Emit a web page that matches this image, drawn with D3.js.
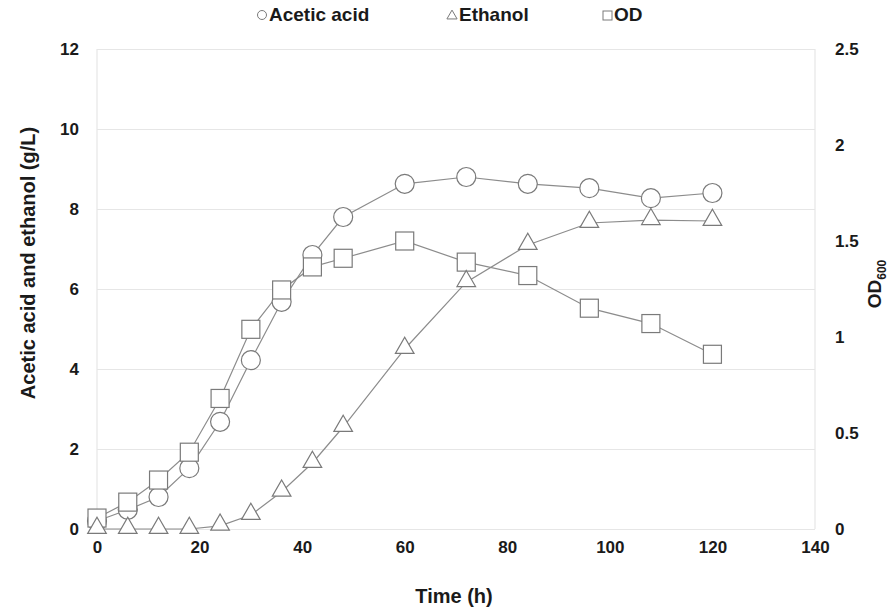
<!DOCTYPE html>
<html>
<head>
<meta charset="utf-8">
<script src="https://cdn.jsdelivr.net/npm/d3@7"></script>
<style>
body{margin:0;background:#fff;}
text{font-family:"Liberation Sans",Arial,sans-serif;font-weight:bold;fill:#1a1a1a;}
</style>
</head>
<body>
<svg id="chart" width="895" height="609"></svg>
<script>
var time = [0, 6, 12, 18, 24, 30, 36, 42, 48, 60, 72, 84, 96, 108, 120];
var acetic = [0.2, 0.48, 0.8, 1.52, 2.68, 4.22, 5.68, 6.85, 7.8, 8.63, 8.8, 8.63, 8.52, 8.27, 8.4];
var ethanol = [0, 0, 0, 0, 0.08, 0.35, 0.93, 1.65, 2.55, 4.5, 6.17, 7.1, 7.65, 7.72, 7.7];
var od = [0.057, 0.14, 0.255, 0.4, 0.68, 1.04, 1.245, 1.365, 1.41, 1.5, 1.39, 1.32, 1.15, 1.07, 0.91];

var xTicks = [0, 20, 40, 60, 80, 100, 120, 140];
var leftTicks = [0, 2, 4, 6, 8, 10, 12];
var rightTicks = [0, 0.5, 1, 1.5, 2, 2.5];

var svg = d3.select("#chart");
var LEFT = 97, RIGHT = 815, TOP = 49, BOTTOM = 529;
var LINE = "#8c8c8c", MARK = "#7a7a7a", GRID = "#e6e6e6";
var TICKFONT = 17;

var x = d3.scaleLinear().domain([0, 140]).range([LEFT, RIGHT]);
var yl = d3.scaleLinear().domain([0, 12]).range([BOTTOM, TOP]);
var yr = d3.scaleLinear().domain([0, 2.5]).range([BOTTOM, TOP]);

// gridlines
svg.append("g")
    .attr("transform", "translate(" + LEFT + ",0)")
    .call(d3.axisLeft(yl).tickValues(leftTicks).tickSize(-(RIGHT - LEFT)).tickFormat(""))
    .call(function (g) {
        g.select(".domain").remove();
        g.selectAll("line").attr("stroke", GRID).attr("stroke-width", 1.2);
    });

svg.append("line").attr("x1", LEFT).attr("x2", LEFT).attr("y1", TOP).attr("y2", BOTTOM)
    .attr("stroke", GRID).attr("stroke-width", 1.2);
svg.append("line").attr("x1", RIGHT).attr("x2", RIGHT).attr("y1", TOP).attr("y2", BOTTOM)
    .attr("stroke", GRID).attr("stroke-width", 1.2);

// axes (labels only)
function clean(g) {
    g.select(".domain").remove();
    g.selectAll(".tick line").remove();
    g.selectAll("text").attr("font-size", TICKFONT).attr("fill", "#1a1a1a");
}

svg.append("g")
    .attr("transform", "translate(" + (LEFT - 15) + ",0)")
    .call(d3.axisLeft(yl).tickValues(leftTicks).tickSize(0).tickFormat(d3.format("d")))
    .call(clean);

svg.append("g")
    .attr("transform", "translate(" + (RIGHT + 17) + ",0)")
    .call(d3.axisRight(yr).tickValues(rightTicks).tickSize(0).tickFormat(function (d) { return d; }))
    .call(clean);

svg.append("g")
    .attr("transform", "translate(0," + (BOTTOM + 9) + ")")
    .call(d3.axisBottom(x).tickValues(xTicks).tickSize(0))
    .call(clean);

// axis titles
svg.append("text").text("Time (h)")
    .attr("x", 454).attr("y", 603).attr("text-anchor", "middle").attr("font-size", 20);

svg.append("text").text("Acetic acid and ethanol (g/L)")
    .attr("transform", "translate(35,263) rotate(-90)")
    .attr("text-anchor", "middle").attr("font-size", 20);

var odLabel = svg.append("text")
    .attr("transform", "translate(881,284) rotate(-90)")
    .attr("text-anchor", "middle").attr("font-size", 19);
odLabel.append("tspan").text("OD");
odLabel.append("tspan").text("600").attr("font-size", 12).attr("dy", 5);

// series
var symTri = d3.symbol().type(d3.symbolTriangle).size(150);

function drawLine(vals, y) {
    var line = d3.line()
        .x(function (d, i) { return x(time[i]); })
        .y(function (d) { return y(d); });
    svg.append("path").datum(vals)
        .attr("d", line)
        .attr("fill", "none")
        .attr("stroke", LINE)
        .attr("stroke-width", 1.2);
}

drawLine(ethanol, yl);
drawLine(od, yr);
drawLine(acetic, yl);

svg.append("g").selectAll("circle").data(acetic).enter().append("circle")
    .attr("cx", function (d, i) { return x(time[i]); })
    .attr("cy", function (d) { return yl(d); })
    .attr("r", 9.5)
    .attr("fill", "#fff").attr("stroke", MARK).attr("stroke-width", 1.2);

svg.append("g").selectAll("rect").data(od).enter().append("rect")
    .attr("x", function (d, i) { return x(time[i]) - 9; })
    .attr("y", function (d) { return yr(d) - 9; })
    .attr("width", 18).attr("height", 18)
    .attr("fill", "#fff").attr("stroke", MARK).attr("stroke-width", 1.2);

svg.append("g").selectAll("path").data(ethanol).enter().append("path")
    .attr("d", symTri)
    .attr("transform", function (d, i) { return "translate(" + x(time[i]) + "," + (yl(d) - 1) + ")"; })
    .attr("fill", "#fff").attr("stroke", MARK).attr("stroke-width", 1.2);

// legend
var lg = svg.append("g");
lg.append("circle").attr("cx", 262).attr("cy", 15).attr("r", 4.5)
    .attr("fill", "#fff").attr("stroke", MARK);
lg.append("text").text("Acetic acid").attr("x", 269).attr("y", 21).attr("font-size", 19);
lg.append("path").attr("d", d3.symbol().type(d3.symbolTriangle).size(45))
    .attr("transform", "translate(452,16)")
    .attr("fill", "#fff").attr("stroke", MARK);
lg.append("text").text("Ethanol").attr("x", 459).attr("y", 21).attr("font-size", 19);
lg.append("rect").attr("x", 603).attr("y", 11).attr("width", 9).attr("height", 9)
    .attr("fill", "#fff").attr("stroke", MARK);
lg.append("text").text("OD").attr("x", 614).attr("y", 21).attr("font-size", 19);
</script>
</body>
</html>
